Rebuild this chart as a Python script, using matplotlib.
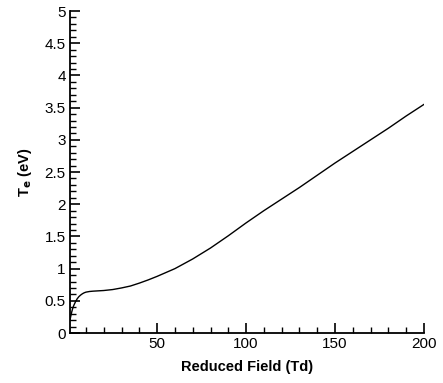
import matplotlib
matplotlib.use('Agg')
import matplotlib.pyplot as plt
from matplotlib.ticker import MultipleLocator, FormatStrFormatter

plt.rcParams['font.family'] = ['Liberation Sans', 'DejaVu Sans']

# reduced field (Td) and electron temperature (eV)
field = [1, 1.5, 2, 2.5, 3, 3.5, 4, 5, 6, 7, 8, 9, 10, 12, 14, 17, 20, 25,
         30, 35, 40, 45, 50, 55, 60, 70, 80, 90, 100, 110, 120, 130, 140, 150,
         160, 170, 180, 190, 200]
temp = [0.20, 0.27, 0.33, 0.38, 0.42, 0.45, 0.48, 0.53, 0.565, 0.59, 0.61,
        0.625, 0.635, 0.645, 0.65, 0.655, 0.66, 0.675, 0.70, 0.73, 0.775,
        0.825, 0.88, 0.94, 1.00, 1.15, 1.32, 1.51, 1.71, 1.90, 2.08, 2.26,
        2.45, 2.64, 2.82, 3.00, 3.18, 3.37, 3.55]

fig = plt.figure(figsize=(4.43, 3.83), dpi=100)
ax = fig.add_axes([0.158, 0.1305, 0.799, 0.8407])

ax.plot(field, temp, color='black', lw=1.0)

ax.set_xlim(1, 200)
ax.set_ylim(0, 5)
ax.set_xticks([50, 100, 150, 200])
ax.xaxis.set_minor_locator(MultipleLocator(10))
ax.yaxis.set_major_locator(MultipleLocator(0.5))
ax.yaxis.set_minor_locator(MultipleLocator(0.1))
ax.yaxis.set_major_formatter(FormatStrFormatter('%g'))

ax.spines['top'].set_visible(False)
ax.spines['right'].set_visible(False)
for s in ('left', 'bottom'):
    ax.spines[s].set_linewidth(1.3)

ax.tick_params(which='major', direction='in', length=7, width=1.2, labelsize=11, pad=3)
ax.tick_params(which='minor', direction='in', length=4, width=1.0)

ax.set_xlabel('Reduced Field (Td)', fontsize=10.5, fontweight='bold', labelpad=6)
ax.set_ylabel(r'T$_{\mathbf{e}}$ (eV)', fontsize=10.5, fontweight='bold', labelpad=8)

fig.savefig('out.png', dpi=100)
